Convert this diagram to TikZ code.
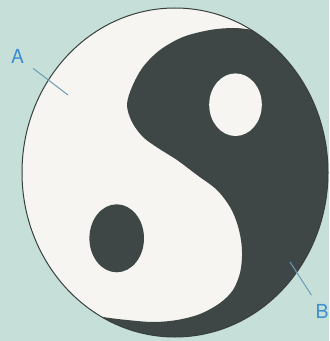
\documentclass[tikz,border=0pt]{standalone}
\usepackage{fontspec}
\setmainfont{TeX Gyre Heros}
\usetikzlibrary{calc}
\definecolor{paper}{HTML}{C6E0D9}
\definecolor{yinc}{HTML}{F6F5F2}
\definecolor{yangc}{HTML}{3E4745}
\definecolor{labblue}{HTML}{3D8FD1}
\definecolor{leadc}{HTML}{6C9BB5}
\tikzset{
yin/.style={fill=yinc},
yang/.style={fill=yangc},
rim/.style={draw=yangc!90!black,line width=0.3mm},
lab/.style={text=labblue,inner sep=2.7mm,font=\fontsize{16.5}{18}\selectfont},
leader/.style={draw=leadc,line width=0.3mm}
}
\begin{document}
\begin{tikzpicture}[x=0.3mm,y=-0.3mm]
\useasboundingbox (0,0) rectangle (329,341);
\fill[paper] (0,0) rectangle (329,341);
% disc
\fill[yin] (175,172.5) ellipse [x radius=153,y radius=164.5];
\begin{scope}
\clip (175,172.5) ellipse [x radius=153,y radius=164.5];
\fill[yang] plot[smooth,tension=0.55] coordinates {(275,33) (250,29.5) (233,28) (210,30) (183,37) (160,50) (143,67) (132,87) (127,105) (132,122) (143,137) (158,148) (177,160) (197,175) (217,190) (230,207) (237,223) (241,240) (242,256) (240,273) (233,290) (220,303) (200,314) (177,320) (153,322) (127,320) (103,317) (85,313)}
 -- (85,350) -- (350,350) -- (350,0) -- (275,0) -- cycle;
\end{scope}
\draw[rim] (175,172.5) ellipse [x radius=153,y radius=164.5];
% eyes
\fill[yin] (235.5,104.7) ellipse [x radius=26.3,y radius=31.3];
\fill[yang] (116.7,238.3) ellipse [x radius=27.3,y radius=34];
% labels
\node[lab] (labA) at (17.5,56.5) {A};
\node[lab] (labB) at (322,311.5) {B};
\coordinate (tipA) at (68,95);
\coordinate (tipB) at (290,262);
\draw[leader] (labA) -- (tipA);
\draw[leader] (labB) -- (tipB);
\end{tikzpicture}
\end{document}
